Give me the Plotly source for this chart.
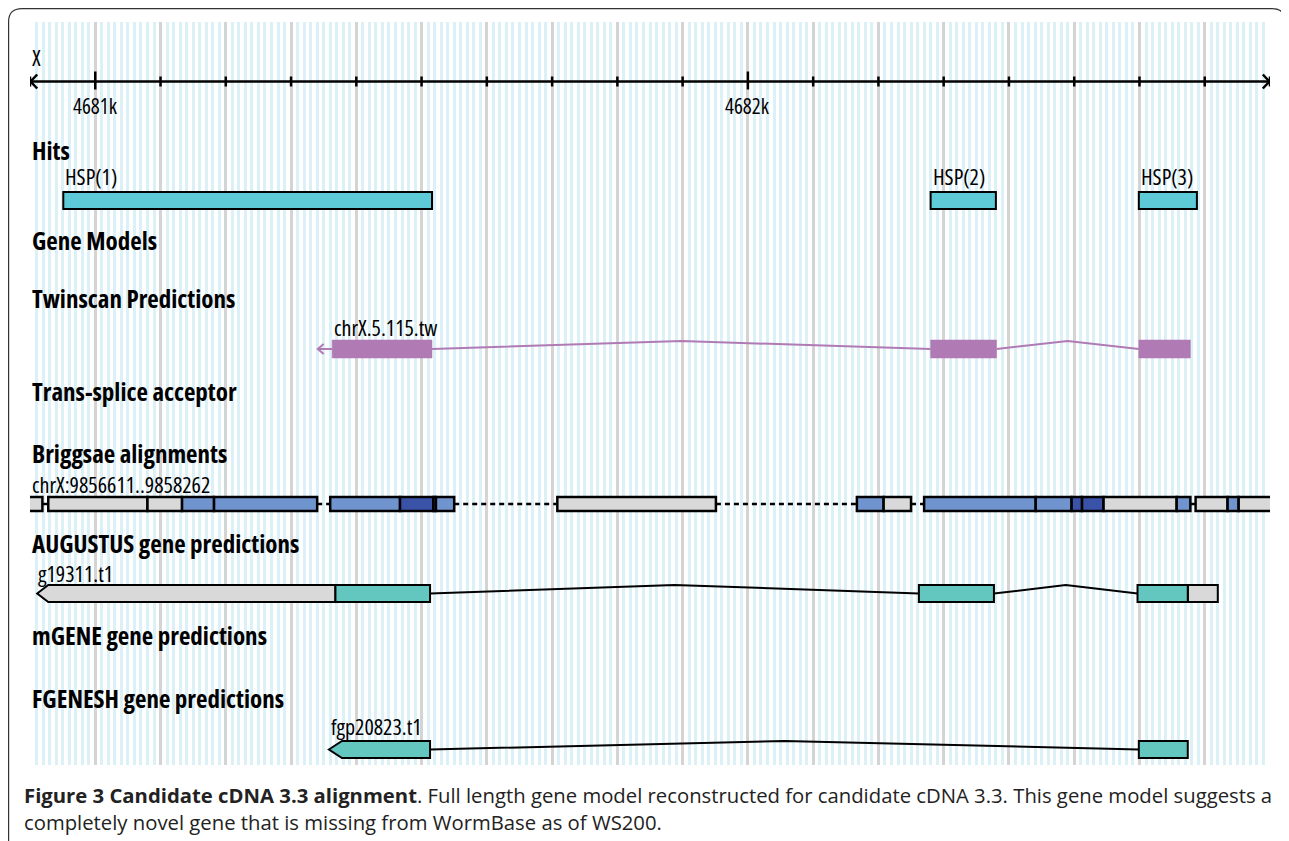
import plotly.graph_objects as go

# ---------------- data (genomic coordinates, bp) ----------------
x_range = [4680900, 4682800]
ruler_label_pos = [4681000, 4682000]
ruler_labels = ["4681k", "4682k"]
ruler_minor = list(range(4680900, 4682801, 100))

hsp_labels = ["HSP(1)", "HSP(2)", "HSP(3)"]
hsp_start = [4680951, 4682280, 4682599]
hsp_end = [4681516, 4682380, 4682688]

twinscan_name = "chrX.5.115.tw"
twinscan_exons = [(4681363, 4681516), (4682280, 4682381), (4682599, 4682678)]
twinscan_arrow_tip = 4681341

briggsae_name = "chrX:9856611..9858262"
# blocks: list of (start, end, kind) ; kind g=gray, b=blue, d=dark blue
briggsae_blocks = [
    [(4680895, 4680919, "g")],
    [(4680928, 4681080, "g"), (4681080, 4681133, "g"), (4681133, 4681182, "b"), (4681182, 4681340, "b")],
    [(4681360, 4681467, "b"), (4681467, 4681518, "d"), (4681518, 4681522, "g"), (4681522, 4681550, "b")],
    [(4681708, 4681951, "g")],
    [(4682167, 4682208, "b"), (4682208, 4682250, "g")],
    [(4682270, 4682441, "b"), (4682441, 4682496, "b"), (4682496, 4682512, "d"), (4682512, 4682545, "d"),
     (4682545, 4682657, "g"), (4682657, 4682678, "b")],
    [(4682686, 4682735, "g"), (4682735, 4682752, "b"), (4682752, 4682804, "g")],
]

augustus_name = "g19311.t1"
augustus_tip = 4680911
augustus_utr = [(4680928, 4681368), (4682674, 4682720)]
augustus_cds = [(4681368, 4681513), (4682262, 4682377), (4682597, 4682674)]

fgenesh_name = "fgp20823.t1"
fgenesh_tip = 4681358
fgenesh_cds = [(4681378, 4681513), (4682599, 4682674)]

track_titles = ["Hits", "Gene Models", "Twinscan Predictions", "Trans-splice acceptor",
                "Briggsae alignments", "AUGUSTUS gene predictions", "mGENE gene predictions",
                "FGENESH gene predictions"]

caption_bold = "Figure 3 Candidate cDNA 3.3 alignment"
caption_line1 = ". Full length gene model reconstructed for candidate cDNA 3.3. This gene model suggests a"
caption_line2 = "completely novel gene that is missing from WormBase as of WS200."

# ---------------- styles / layout positions (page pixels) ----------------
OFF = 8                     # page body margin of the html page
W, H = 1289 - OFF, 841 - OFF
L, R, T, B = 30, 1270, 22, 765   # plot area in page pixels
title_y = [150, 240, 298, 391, 453, 543, 635, 698]

FONT = "Open Sans, sans-serif"
COND = "font-stretch:condensed"
C_HSP = "#5fcad7"
C_TEAL = "#63c6bf"
C_PURPLE = "#b07ab4"
C_BLUE = "#6f94ce"
C_DARK = "#3a52a8"
C_GRAY = "#d9d9d9"
KIND = {"g": C_GRAY, "b": C_BLUE, "d": C_DARK}


def pxx(p):
    return (p - L) / (R - L)


def pxy(p):
    return (B - p) / (B - T)


shapes = []
ann = []


def rect(x0, x1, y0, y1, fill, line="black", lw=2):
    shapes.append(dict(type="rect", xref="x", yref="y", x0=x0, x1=x1, y0=y0, y1=y1,
                       fillcolor=fill, line=dict(color=line, width=lw), layer="above"))


def seg(x0, y0, x1, y1, color="black", lw=2, dash="solid"):
    shapes.append(dict(type="line", xref="x", yref="y", x0=x0, x1=x1, y0=y0, y1=y1,
                       line=dict(color=color, width=lw, dash=dash), layer="above"))


def ctext(text, bold=False):
    inner = f"<b>{text}</b>" if bold else text
    return f"<span style='{COND}'>{inner}</span>"


def label(x, y, text, size=22, bold=False, xref="x", xanchor="left"):
    ann.append(dict(x=x, y=y, xref=xref, yref="y", text=ctext(text, bold),
                    showarrow=False, xanchor=xanchor, yanchor="middle",
                    font=dict(family=FONT, size=size, color="black")))


# ---- ruler ----
RY = 81.5
seg(x_range[0], RY, x_range[1], RY, lw=2.5)
for t in ruler_minor:
    if t in ruler_label_pos:
        seg(t, RY - 10, t, RY + 8, lw=2.5)
    else:
        seg(t, RY - 5, t, RY + 5, lw=2.5)
shapes.append(dict(type="path", xref="x", yref="y",
                   path=f"M {x_range[0]+11},{RY-7} L {x_range[0]+1},{RY} L {x_range[0]+11},{RY+7}",
                   line=dict(color="black", width=2.5)))
shapes.append(dict(type="path", xref="x", yref="y",
                   path=f"M {x_range[1]-11},{RY-7} L {x_range[1]-1},{RY} L {x_range[1]-11},{RY+7}",
                   line=dict(color="black", width=2.5)))
label(pxx(30), 57, "X", size=22, xref="paper")
for p, t in zip(ruler_label_pos, ruler_labels):
    label(p, 106, t, size=21, xanchor="center")

# ---- track titles ----
for t, y in zip(track_titles, title_y):
    label(0, y, t, size=25, bold=True, xref="paper")

# ---- hits ----
for lab, s, e in zip(hsp_labels, hsp_start, hsp_end):
    rect(s, e, 192, 209, C_HSP)
    label(s, 176, lab)

# ---- twinscan ----
label(twinscan_exons[0][0], 327, twinscan_name)
TY0, TY1 = 340, 358
TM = (TY0 + TY1) / 2
for (a, b) in zip(twinscan_exons[:-1], twinscan_exons[1:]):
    mid = (a[1] + b[0]) / 2
    shapes.append(dict(type="path", xref="x", yref="y",
                       path=f"M {a[1]},{TM} L {mid},{TY0+1} L {b[0]},{TM}",
                       line=dict(color=C_PURPLE, width=2), layer="above"))
seg(twinscan_arrow_tip, TM, twinscan_exons[0][0], TM, color=C_PURPLE, lw=2)
shapes.append(dict(type="path", xref="x", yref="y",
                   path=f"M {twinscan_arrow_tip+9},{TM-5} L {twinscan_arrow_tip},{TM} L {twinscan_arrow_tip+9},{TM+5}",
                   line=dict(color=C_PURPLE, width=2)))
for (s, e) in twinscan_exons:
    rect(s, e, TY0, TY1, C_PURPLE, line=C_PURPLE, lw=0.5)

# ---- briggsae ----
label(pxx(30), 484, briggsae_name, xref="paper")
BY0, BY1 = 497, 511
BM = (BY0 + BY1) / 2
for a, b in zip(briggsae_blocks[:-1], briggsae_blocks[1:]):
    seg(a[-1][1], BM, b[0][0], BM, lw=2.5, dash="5px,4px")
for blk in briggsae_blocks:
    for (s, e, k) in blk:
        rect(s, e, BY0, BY1, KIND[k], lw=2.5)

# ---- augustus ----
label(pxx(36), 573, augustus_name, xref="paper")
AY0, AY1 = 585, 602
AM = (AY0 + AY1) / 2
for (a, b) in zip(augustus_cds[:-1], augustus_cds[1:]):
    mid = (a[1] + b[0]) / 2
    shapes.append(dict(type="path", xref="x", yref="y",
                       path=f"M {a[1]},{AM} L {mid},{AY0} L {b[0]},{AM}",
                       line=dict(color="black", width=2)))
u0, u1 = augustus_utr[0]
shapes.append(dict(type="path", xref="x", yref="y",
                   path=f"M {augustus_tip},{AM} L {u0},{AY0} L {u1},{AY0} L {u1},{AY1} L {u0},{AY1} Z",
                   fillcolor=C_GRAY, line=dict(color="black", width=2), layer="above"))
for (s, e) in augustus_utr[1:]:
    rect(s, e, AY0, AY1, C_GRAY)
for (s, e) in augustus_cds:
    rect(s, e, AY0, AY1, C_TEAL)

# ---- fgenesh ----
label(fgenesh_tip, 726, fgenesh_name)
FY0, FY1 = 741, 758
FM = (FY0 + FY1) / 2
for (a, b) in zip(fgenesh_cds[:-1], fgenesh_cds[1:]):
    mid = (a[1] + b[0]) / 2
    shapes.append(dict(type="path", xref="x", yref="y",
                       path=f"M {a[1]},{FM} L {mid},{FY0} L {b[0]},{FM}",
                       line=dict(color="black", width=2)))
s0, e0 = fgenesh_cds[0]
shapes.append(dict(type="path", xref="x", yref="y",
                   path=f"M {fgenesh_tip},{FM} L {s0},{FY0} L {e0},{FY0} L {e0},{FY1} L {s0},{FY1} Z",
                   fillcolor=C_TEAL, line=dict(color="black", width=2), layer="above"))
for (s, e) in fgenesh_cds[1:]:
    rect(s, e, FY0, FY1, C_TEAL)

# ---- frame ----
shapes.append(dict(type="path", xref="paper", yref="paper",
                   path=(f"M {pxx(8.6)},{pxy(845)} L {pxx(8.6)},{pxy(22)} "
                         f"Q {pxx(8.6)},{pxy(8.6)} {pxx(22)},{pxy(8.6)} L {pxx(1272)},{pxy(8.6)} "
                         f"Q {pxx(1285)},{pxy(8.6)} {pxx(1285)},{pxy(21)}"),
                   line=dict(color="#333333", width=1.2)))

# ---- caption ----
ann.append(dict(x=pxx(22), y=pxy(795), xref="paper", yref="paper", showarrow=False,
                xanchor="left", yanchor="middle",
                text=f"<b>{caption_bold}</b>{caption_line1}",
                font=dict(family=FONT, size=20.3, color="#222222")))
ann.append(dict(x=pxx(22), y=pxy(822), xref="paper", yref="paper", showarrow=False,
                xanchor="left", yanchor="middle",
                text=caption_line2,
                font=dict(family=FONT, size=20.3, color="#222222")))

fig = go.Figure()
fig.add_trace(go.Scatter(x=[x_range[0]], y=[T], mode="markers", marker=dict(opacity=0),
                         hoverinfo="skip", showlegend=False))
fig.update_layout(
    width=W, height=H,
    margin=dict(l=L - OFF, r=W - (R - OFF), t=T - OFF, b=H - (B - OFF), pad=0),
    paper_bgcolor="white", plot_bgcolor="white", showlegend=False,
    shapes=shapes, annotations=ann,
    xaxis=dict(range=x_range, showticklabels=False, ticks="", zeroline=False, showline=False,
               showgrid=True, tick0=4680900, dtick=100, gridcolor="#d4d4d4", gridwidth=2.5,
               minor=dict(dtick=10, showgrid=True, gridcolor="#dcf0f8", gridwidth=3)),
    yaxis=dict(range=[B, T], visible=False, showgrid=False, zeroline=False),
)
fig.write_html("out.html")
